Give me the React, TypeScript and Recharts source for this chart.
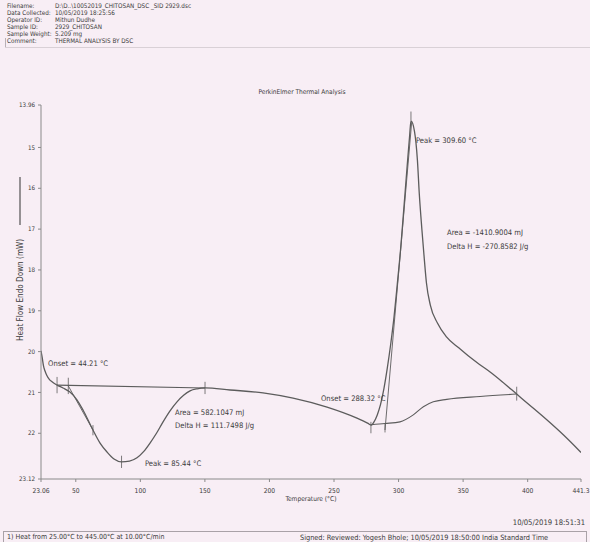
import React from 'react';
import { LineChart, Line, XAxis, YAxis, ReferenceLine, ReferenceDot, Label } from 'recharts';

// ---- data ----
const xTicks = [23.06, 50, 100, 150, 200, 250, 300, 350, 400, 441.3];
const yTicks = [13.96, 15, 16, 17, 18, 19, 20, 21, 22, 23.12];

const curveTemp = [
  23.06, 24.0, 25.0, 26.1, 27.5, 29.5, 31.6, 35.5, 40.1, 45.5, 50.9, 55.6, 63.3, 68.8, 74.2, 79.6,
  85.4, 91.6, 97.4, 102.5, 107.5, 112.5, 117.6, 123.0, 128.4, 133.5, 138.5, 144.0, 150.1, 169.5,
  195.0, 218.3, 244.6, 267.8, 276.0, 279.0, 281.0, 283.5, 286.0, 288.7, 291.3, 293.9, 296.5, 299.0,
  301.7, 304.2, 306.8, 308.6, 309.6, 312.3, 314.6, 316.1, 318.1, 320.0, 321.6, 324.6, 330.1, 337.1,
  347.1, 355.4, 363.0, 370.9, 380.0, 391.5, 403.0, 414.8, 428.0, 441.3,
];
const curveHeat = [
  19.98, 20.15, 20.35, 20.47, 20.58, 20.68, 20.74, 20.82, 20.89, 20.99, 21.18, 21.43, 21.92, 22.24, 22.46, 22.63,
  22.7, 22.68, 22.6, 22.45, 22.24, 22.0, 21.72, 21.45, 21.23, 21.07, 20.96, 20.91, 20.89, 20.94,
  21.01, 21.14, 21.36, 21.63, 21.75, 21.8, 21.72, 21.55, 21.3, 20.9, 20.4, 19.82, 19.15, 18.35,
  17.45, 16.45, 15.4, 14.7, 14.35, 14.6, 15.31, 16.16, 17.02, 17.76, 18.32, 18.86, 19.3, 19.64,
  19.92, 20.14, 20.32, 20.5, 20.73, 21.04, 21.35, 21.67, 22.05, 22.47,
];

const base1Temp = [35.5, 150.1];
const base1Heat = [20.82, 20.89];
const tan1Temp = [44.21, 63.3];
const tan1Heat = [20.84, 21.92];
const base2Temp = [278.6, 289.5, 301.1, 311.4, 319.2, 326.9, 337.3, 363.1, 391.5];
const base2Heat = [21.79, 21.76, 21.72, 21.55, 21.35, 21.23, 21.17, 21.1, 21.04];
const tan2Temp = [289.5, 310.2];
const tan2Heat = [21.92, 14.37];

const markTemp = [35.5, 44.21, 150.1, 63.3, 85.44, 278.6, 289.5, 391.5, 309.6];
const markLow = [20.62, 20.64, 20.74, 21.8, 22.55, 21.72, 21.76, 20.86, 14.12];
const markHigh = [21.02, 21.04, 21.04, 22.05, 22.85, 22.0, 21.98, 21.2, 14.34];

const noteText = [
  'Onset = 44.21 °C',
  'Area = 582.1047 mJ',
  'Delta H = 111.7498 J/g',
  'Peak = 85.44 °C',
  'Onset = 288.32 °C',
  'Peak = 309.60 °C',
  'Area = -1410.9004 mJ',
  'Delta H = -270.8582 J/g',
];
const noteTemp = [28.5, 126.9, 126.9, 103.6, 239.9, 313.5, 337.5, 337.5];
const noteHeat = [20.35, 21.55, 21.87, 22.8, 21.21, 14.89, 17.14, 17.49];

const headerLabels = ['Filename:', 'Data Collected:', 'Operator ID:', 'Sample ID:', 'Sample Weight:', 'Comment:'];
const headerValues = [
  'D:\\D..\\10052019_CHITOSAN_DSC _SID 2929.dsc',
  '10/05/2019 18:25:56',
  'Mithun Dudhe',
  '2929_CHITOSAN',
  '5.209 mg',
  'THERMAL ANALYSIS BY DSC',
];

const zip = (t: number[], h: number[]) => t.map((x, i) => ({ t: x, h: h[i] }));
const curve = zip(curveTemp, curveHeat);
const base1 = zip(base1Temp, base1Heat);
const tan1 = zip(tan1Temp, tan1Heat);
const base2 = zip(base2Temp, base2Heat);
const tan2 = zip(tan2Temp, tan2Heat);
const notes = noteText.map((s, i) => ({ s, t: noteTemp[i], h: noteHeat[i] }));
const marks = markTemp.map((t, i) => ({ t, lo: markLow[i], hi: markHigh[i] }));

const FONT = "'Liberation Sans Narrow', 'DejaVu Sans Condensed', 'Arial Narrow', 'Liberation Sans', Arial, sans-serif";
const BG = '#f8eef5';
const INK = '#3a3a3a';
const LINE = '#5c5c5c';

const YLabel = (props: any) => {
  const vb = props.viewBox || { x: 0, y: 0, width: 0, height: 0 };
  const cx = vb.x + 19;
  const cy = vb.y + vb.height / 2 - 2;
  return (
    <g>
      <text
        x={cx}
        y={cy}
        transform={`rotate(-90 ${cx} ${cy})`}
        textAnchor="middle"
        dominantBaseline="middle"
        fontSize={8.1}
        fontFamily={FONT}
        fill={INK}
      >
        Heat Flow Endo Down (mW)
      </text>
      <line x1={cx} x2={cx} y1={cy - 65} y2={cy - 113} stroke="#333" strokeWidth={1} />
    </g>
  );
};

const XLabel = (props: any) => {
  const vb = props.viewBox || { x: 0, y: 0, width: 0, height: 0 };
  return (
    <text
      x={vb.x + vb.width / 2}
      y={vb.y + 22}
      textAnchor="middle"
      fontSize={6.6}
      fontFamily={FONT}
      fill={INK}
    >
      Temperature (°C)
    </text>
  );
};

export default function App() {
  return (
    <div
      style={{
        position: 'relative',
        width: 590,
        height: 542,
        background: BG,
        overflow: 'hidden',
        fontFamily: FONT,
        color: INK,
      }}
    >
      <style>{`body{margin:0;background:${BG};}`}</style>
      {/* header */}
      <div style={{ position: 'absolute', left: 7, top: 2, fontSize: 6.3, lineHeight: '7px', whiteSpace: 'nowrap' }}>
        {headerLabels.map((l, i) => (
          <div key={l} style={{ display: 'flex', height: 7 }}>
            <span style={{ width: 48, flex: 'none' }}>{l}</span>
            <span>{headerValues[i]}</span>
          </div>
        ))}
      </div>
      <div style={{ position: 'absolute', left: 5, top: 38, width: 1, height: 9, background: '#b8b0b6' }} />
      <div style={{ position: 'absolute', left: 5, top: 47, width: 585, height: 1, background: '#d9d0d6' }} />
      <div
        style={{
          position: 'absolute',
          left: 0,
          width: 604,
          top: 88,
          textAlign: 'center',
          fontSize: 6.5,
          lineHeight: '9px',
        }}
      >
        PerkinElmer Thermal Analysis
      </div>

      <div style={{ position: 'absolute', left: 0, top: 0 }}>
        <LineChart width={590} height={542} margin={{ top: 105, right: 9, bottom: 33, left: 1 }}>
          <XAxis
            dataKey="t"
            type="number"
            domain={[23.06, 441.3]}
            ticks={xTicks}
            interval={0}
            allowDataOverflow
            height={30}
            tickSize={3}
            tickMargin={6}
            stroke="#8a8a8a"
            tick={{ fill: INK, fontSize: 6.7, fontFamily: FONT }}
            tickFormatter={(v: number) => String(v)}
          >
            <Label content={<XLabel />} />
          </XAxis>
          <YAxis
            dataKey="h"
            type="number"
            reversed
            domain={[13.96, 23.12]}
            ticks={yTicks}
            interval={0}
            allowDataOverflow
            width={40}
            tickSize={3}
            tickMargin={3}
            stroke="#8a8a8a"
            tick={{ fill: INK, fontSize: 6.2, fontFamily: FONT }}
            tickFormatter={(v: number) => String(v)}
          >
            <Label content={<YLabel />} />
          </YAxis>
          <Line data={base1} dataKey="h" type="linear" stroke={LINE} strokeWidth={1.1} dot={false} isAnimationActive={false} />
          <Line data={tan1} dataKey="h" type="linear" stroke={LINE} strokeWidth={0.9} dot={false} isAnimationActive={false} />
          <Line data={base2} dataKey="h" type="monotone" stroke={LINE} strokeWidth={1.1} dot={false} isAnimationActive={false} />
          <Line data={tan2} dataKey="h" type="linear" stroke={LINE} strokeWidth={0.9} dot={false} isAnimationActive={false} />
          <Line data={curve} dataKey="h" type="monotone" stroke={LINE} strokeWidth={1.3} dot={false} isAnimationActive={false} />
          {marks.map((m, i) => (
            <ReferenceLine
              key={'m' + i}
              segment={[{ x: m.t, y: m.lo }, { x: m.t, y: m.hi }]}
              stroke={LINE}
              strokeWidth={0.8}
            />
          ))}
          {notes.map((n, i) => (
            <ReferenceDot
              key={'n' + i}
              x={n.t}
              y={n.h}
              r={1}
              shape={(p: any) => (
                <text x={p.cx} y={p.cy} fontSize={7.6} fontFamily={FONT} fill={INK}>
                  {n.s}
                </text>
              )}
            />
          ))}
        </LineChart>
      </div>

      {/* footer */}
      <div style={{ position: 'absolute', right: 5, top: 518, fontSize: 7.6, lineHeight: '10px', whiteSpace: 'nowrap' }}>10/05/2019 18:51:31</div>
      <div style={{ position: 'absolute', left: 3, top: 531, width: 584, height: 1, background: '#a9a1a7' }} />
      <div style={{ position: 'absolute', left: 3, top: 531, width: 1, height: 11, background: '#a9a1a7' }} />
      <div style={{ position: 'absolute', left: 586, top: 531, width: 1, height: 11, background: '#a9a1a7' }} />
      <div style={{ position: 'absolute', left: 7, top: 533, fontSize: 7, lineHeight: '9px', whiteSpace: 'nowrap' }}>
        1) Heat from 25.00°C to 445.00°C at 10.00°C/min
      </div>
      <div style={{ position: 'absolute', left: 300, top: 533, fontSize: 7.3, lineHeight: '9px', whiteSpace: 'nowrap' }}>
        Signed: Reviewed: Yogesh Bhole; 10/05/2019 18:50:00 India Standard Time
      </div>
    </div>
  );
}
